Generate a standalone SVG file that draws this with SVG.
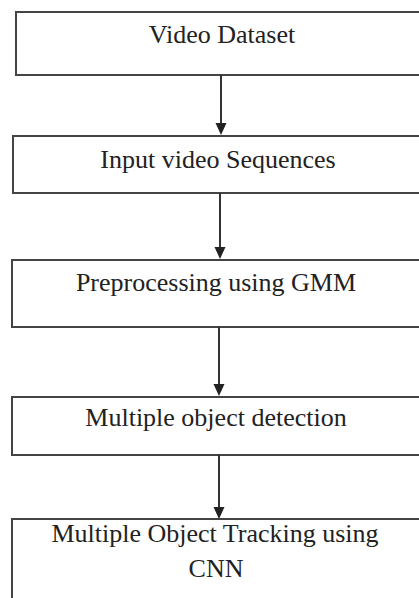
<svg xmlns="http://www.w3.org/2000/svg" width="419" height="598" viewBox="0 0 419 598">
<style>
.box{fill:#fff;stroke:#444;stroke-width:2}
.lbl{font-family:"Liberation Serif","Times New Roman",serif;font-size:26px;fill:#222;text-anchor:middle}
.con{stroke:#333;stroke-width:2;fill:none}
.head{fill:#222}
</style>
<rect width="419" height="598" fill="#fff"/>
<g id="n1"><rect class="box" x="16" y="12" width="420" height="63"/><text class="lbl" x="222" y="43">Video Dataset</text></g>
<g id="n2"><rect class="box" x="13" y="136" width="420" height="57"/><text class="lbl" x="218" y="168">Input video Sequences</text></g>
<g id="n3"><rect class="box" x="12" y="260" width="420" height="67"/><text class="lbl" x="216" y="291">Preprocessing using GMM</text></g>
<g id="n4"><rect class="box" x="12" y="397" width="420" height="58"/><text class="lbl" x="216" y="426">Multiple object detection</text></g>
<g id="n5"><rect class="box" x="12" y="519" width="420" height="100"/><text class="lbl" x="215" y="542">Multiple Object Tracking using</text><text class="lbl" x="216" y="577">CNN</text></g>
<g id="connectors">
<line class="con" x1="221" y1="75" x2="221" y2="126"/><path class="head" d="M215.5,123 L226.5,123 L221,135 Z"/>
<line class="con" x1="220" y1="193" x2="220" y2="250"/><path class="head" d="M214.5,247 L225.5,247 L220,259 Z"/>
<line class="con" x1="219" y1="327" x2="219" y2="387"/><path class="head" d="M213.5,384 L224.5,384 L219,396 Z"/>
<line class="con" x1="219" y1="455" x2="219" y2="510"/><path class="head" d="M213.5,507 L224.5,507 L219,519 Z"/>
</g>
</svg>
